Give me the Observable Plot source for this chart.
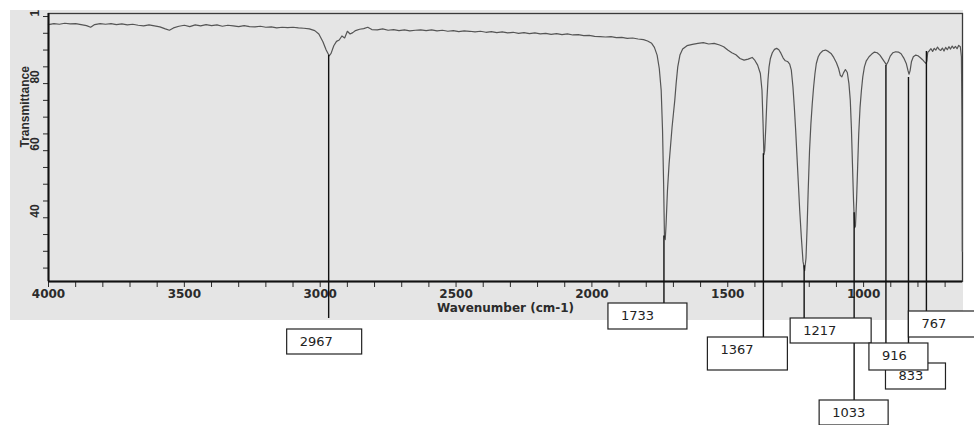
<!DOCTYPE html>
<html>
<head>
<meta charset="utf-8">
<script src="https://cdn.jsdelivr.net/npm/d3@7"></script>
<script src="https://cdn.jsdelivr.net/npm/@observablehq/plot@0.6"></script>
<style>
  body { margin: 0; background: #fff; }
  #chart { position: relative; width: 974px; height: 425px; }
  #chart .scan { position: absolute; left: 10px; top: 10px; width: 953px; height: 310px; background: #e5e5e5; z-index: 0; }
  #chart svg { display: block; position: relative; z-index: 1; }
</style>
</head>
<body>
<div id="chart"><div class="scan"></div></div>
<script>
// ---------- data ----------
const wavenumber = [
  4000,3980,3960,3940,3920,3900,3880,3860,3845,3830,3810,3790,3770,3750,3730,3710,3690,3670,3650,3630,
  3610,3590,3570,3555,3540,3520,3500,3480,3460,3440,3420,3400,3380,3360,3340,3320,3300,3280,3260,3240,
  3220,3200,3180,3160,3140,3120,3100,3080,3060,3040,3020,3005,2990,2978,2967,2960,2950,2940,2930,2920,
  2910,2900,2890,2880,2870,2855,2840,2825,2810,2790,2770,2750,2730,2710,2690,2670,2650,2630,2610,2590,
  2570,2550,2530,2510,2490,2470,2450,2430,2410,2390,2370,2350,2330,2310,2290,2270,2250,2230,2210,2190,
  2170,2150,2130,2110,2090,2070,2050,2030,2010,1990,1970,1950,1930,1910,1890,1870,1850,1830,1810,1795,
  1780,1770,1760,1752,1745,1740,1736,1733,1730,1727,1722,1716,1710,1705,1700,1695,1690,1684,1676,1666,
  1650,1630,1610,1590,1570,1550,1530,1515,1500,1485,1470,1455,1440,1425,1410,1400,1390,1380,1374,1370,
  1367,1364,1360,1356,1352,1348,1343,1336,1328,1320,1312,1304,1296,1288,1280,1272,1266,1260,1255,1250,
  1245,1240,1235,1229,1223,1217,1212,1208,1204,1199,1194,1189,1184,1179,1174,1167,1160,1150,1140,1130,
  1120,1110,1100,1092,1086,1080,1074,1067,1060,1054,1049,1045,1041,1037,1033,1030,1026,1022,1018,1013,
  1008,1003,997,990,980,970,960,950,940,930,920,916,910,902,892,882,872,862,852,843,
  837,833,829,824,817,808,800,792,784,776,770,767,764,758,752,746,740,734,728,722,
  716,710,704,698,692,686,680,674,668,662,656,650,644,640,638,636.5
];
const transmittance = [
  97.6,97.9,97.7,98.0,97.8,97.9,97.6,97.3,96.8,97.6,97.9,97.7,97.9,97.6,97.8,97.5,97.7,97.4,97.2,97.5,
  97.2,96.9,96.3,95.9,96.6,97.1,97.4,97.0,97.5,97.2,97.6,97.3,97.5,97.1,97.4,97.2,97.0,97.3,97.0,96.9,
  97.1,96.8,96.9,96.6,96.8,96.7,96.8,96.6,96.5,96.3,95.8,94.8,92.5,90.0,88.3,89.0,91.3,92.6,93.0,94.2,
  93.6,95.6,94.8,95.2,95.8,96.2,96.4,96.8,96.1,96.0,96.3,95.9,96.1,95.8,96.0,95.7,95.9,96.0,95.8,96.0,
  95.7,95.9,95.6,95.8,95.5,95.7,95.6,95.4,95.6,95.3,95.5,95.2,95.4,95.1,95.3,95.0,95.2,94.9,95.1,94.8,
  95.0,94.7,94.9,94.6,94.8,94.5,94.6,94.3,94.4,94.1,94.0,93.9,94.0,93.7,93.8,93.5,93.6,93.3,93.1,92.7,
  92.0,90.8,88.5,84.5,78.0,66.0,50.0,34.5,33.5,38.0,48.0,56.0,62.0,67.0,71.0,75.0,80.0,85.0,88.5,90.3,
  91.3,91.7,92.0,92.2,91.8,92.0,91.5,91.0,90.0,89.2,88.6,87.5,87.0,87.3,87.8,86.9,85.5,83.0,78.0,68.0,
  58.8,60.0,67.0,75.0,81.0,85.0,87.5,89.2,90.2,90.5,90.1,89.0,87.6,86.8,86.6,85.8,84.0,79.0,73.0,66.0,
  58.0,50.0,42.0,34.0,27.0,24.2,28.0,37.0,48.0,60.0,68.0,74.0,79.0,83.0,86.0,88.0,89.0,89.8,90.0,89.6,
  89.0,87.8,86.2,84.5,82.5,82.0,83.2,84.2,83.3,80.0,75.0,67.0,56.0,45.0,37.0,37.5,45.0,55.0,65.0,73.0,
  78.0,82.0,85.0,86.8,88.0,88.8,89.4,89.2,88.5,87.3,86.1,85.6,86.5,88.2,89.2,89.5,89.4,88.9,87.6,86.0,
  84.0,82.8,83.8,86.5,88.0,88.5,88.3,87.8,87.2,86.5,86.0,86.8,89.3,89.8,90.4,89.6,90.5,90.0,90.9,90.2,
  89.9,90.6,89.7,90.8,90.1,91.0,90.3,91.2,90.5,91.1,90.4,91.4,91.0,88.0,70.0,30.0
];

const peakWavenumbers   = [2967, 1733, 1367, 1217, 1033, 916, 833, 767];
const peakTransmittance = [88.4, 34.6, 59.1, 25.7, 41.5, 85.4, 81.8, 89.6];
const peakLabels        = ["2967", "1733", "1367", "1217", "1033", "916", "833", "767"];

const xDomain = [4000, 636];
const yDomain = [21, 100.9];
const xTickValues  = d3.range(700, 4001, 100);
const xLabelValues = [4000, 3500, 3000, 2500, 2000, 1500, 1000];
const yTickValues  = d3.range(25, 101, 5);
const yLabelValues = [100, 80, 60, 40];
const yLabelTexts  = ["1", "80", "60", "40"];
const xAxisTitle = "Wavenumber (cm-1)";
const yAxisTitle = "Transmittance";

// ---------- annotation layout (pixels, styling only) ----------
const boxLayout = [
  {dx: -42, top: 329, bw: 75, bh: 25, lineEnd: 318},  // 2967
  {dx: -56, top: 303, bw: 79, bh: 26, lineEnd: 303},  // 1733
  {dx: -56, top: 337, bw: 80, bh: 33, lineEnd: 337},  // 1367
  {dx: -14, top: 318, bw: 81, bh: 25, lineEnd: 318},  // 1217
  {dx: -35, top: 400, bw: 69, bh: 25, lineEnd: 400},  // 1033
  {dx: -17, top: 343, bw: 59, bh: 27, lineEnd: 343},  // 916
  {dx: -23, top: 363, bw: 60, bh: 26, lineEnd: 363},  // 833
  {dx: -18, top: 311, bw: 70, bh: 26, lineEnd: 311}   // 767
];
const drawOrder = [0, 1, 2, 3, 4, 6, 5, 7];

const spectrum = wavenumber.map((w, i) => ({w, t: transmittance[i]}));
const peaks = peakWavenumbers.map((wn, i) => ({wn, t: peakTransmittance[i], label: peakLabels[i], ...boxLayout[i]}));

function annotations(index, scales) {
  const g = d3.create("svg:g");
  const lines = g.append("g").attr("stroke", "#111").attr("stroke-width", 1.4);
  peaks.forEach(p => {
    const x = scales.x(p.wn);
    lines.append("line").attr("x1", x).attr("x2", x).attr("y1", scales.y(p.t)).attr("y2", p.lineEnd);
  });
  drawOrder.forEach(i => {
    const p = peaks[i];
    const x0 = scales.x(p.wn) + p.dx;
    g.append("rect").attr("x", x0).attr("y", p.top).attr("width", p.bw).attr("height", p.bh)
      .attr("fill", "#fff").attr("stroke", "#222").attr("stroke-width", 1.2);
    g.append("text").attr("x", x0 + 13).attr("y", p.top + 12.5).attr("dy", "0.35em")
      .attr("text-anchor", "start")
      .attr("font-family", "DejaVu Sans").attr("font-size", 13).attr("font-weight", "normal")
      .attr("fill", "#222").text(p.label);
  });
  return g.node();
}

const chart = Plot.plot({
  width: 974,
  height: 425,
  marginLeft: 48,
  marginRight: 12,
  marginTop: 13,
  marginBottom: 144,
  style: {fontFamily: "DejaVu Sans", fontSize: "12px", fontWeight: "bold", color: "#2b2b2b", background: "transparent", overflow: "visible"},
  x: {domain: xDomain, ticks: xTickValues, tickSize: 6, tickPadding: 2,
      tickFormat: d => xLabelValues.includes(d) ? String(d) : "", label: null},
  y: {domain: yDomain, ticks: yTickValues, tickSize: 5, tickFormat: () => "", label: null},
  marks: [
    Plot.frame({stroke: "#3a3a3a", strokeWidth: 1.3}),
    Plot.line(spectrum, {x: "w", y: "t", stroke: "#555", strokeWidth: 1.2}),
    Plot.ruleX([xDomain[0]], {stroke: "#111", strokeWidth: 2}),
    Plot.ruleY([yDomain[0]], {stroke: "#111", strokeWidth: 2}),
    Plot.text(yLabelValues, {y: d => d, text: (d, i) => yLabelTexts[i], frameAnchor: "left", dx: -13, rotate: -90,
      fontFamily: "Liberation Sans", fontWeight: "bold", fontSize: 12, fill: "#2b2b2b"}),
    Plot.text([yAxisTitle], {frameAnchor: "left", dx: -23, rotate: -90, fontFamily: "Liberation Sans",
      fontWeight: "bold", fontSize: 12, fill: "#2b2b2b"}),
    Plot.text([xAxisTitle], {frameAnchor: "bottom", dy: 30, fontFamily: "DejaVu Sans", fontWeight: "bold",
      fontSize: 12, fill: "#2b2b2b"}),
    annotations
  ]
});
document.getElementById("chart").appendChild(chart);
</script>
</body>
</html>
